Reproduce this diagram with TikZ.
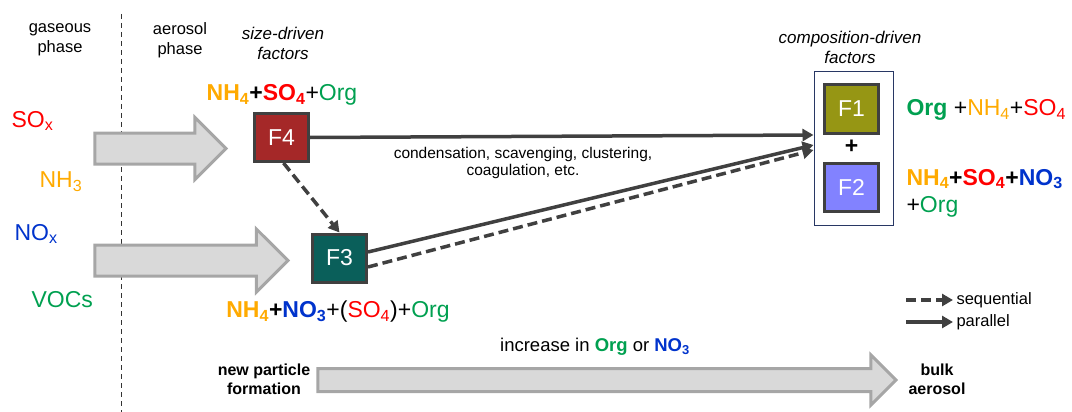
\documentclass[tikz,border=0pt]{standalone}
\usepackage{fontspec}
\setmainfont{Liberation Sans}
\usetikzlibrary{arrows.meta, shapes.arrows, positioning}

\definecolor{nhorange}{RGB}{255, 170, 0}
\definecolor{sored}{RGB}{255, 0, 0}
\definecolor{orggreen}{RGB}{0, 160, 80}
\definecolor{noblue}{RGB}{0, 51, 204}
\definecolor{fourred}{RGB}{165, 40, 40}
\definecolor{threeteal}{RGB}{10, 95, 90}
\definecolor{oneolive}{RGB}{150, 150, 20}
\definecolor{twoblue}{RGB}{130, 130, 255}
\definecolor{linegray}{RGB}{64, 64, 64}
\definecolor{framenavy}{RGB}{40, 55, 100}
\definecolor{bigfill}{RGB}{217, 217, 217}
\definecolor{bigdraw}{RGB}{166, 166, 166}

\tikzset{
  factor/.style={draw=linegray, line width=3pt, minimum width=54pt, minimum height=48pt, text=white, font=\fontsize{23}{27}\selectfont},
  bigarrow/.style={single arrow, draw=bigdraw, fill=bigfill, line width=3pt, single arrow tip angle=90, anchor=tip},
  chem/.style={font=\fontsize{23}{27}\selectfont},
  lbl/.style={font=\fontsize{16.5}{20}\selectfont, align=center},
  ital/.style={font=\fontsize{17}{20}\selectfont\itshape, align=center},
  strong/.style={font=\fontsize{16}{19}\selectfont\bfseries, align=center},
  flow/.style={draw=linegray, line width=3.5pt, -{Triangle[length=11pt,width=12pt]}},
  seq/.style={flow, dash pattern=on 10pt off 5pt},
}

\begin{document}
\begin{tikzpicture}[x=1pt, y=-1pt]
  \useasboundingbox (0,0) rectangle (1072,412);

  % Phases
  \draw[black!80, line width=0.9pt, dash pattern=on 5pt off 4pt] (121,14) -- (121,412);
  \node[lbl] (gas) at (60,40) {gaseous\\phase};
  \node[lbl] (aer) at (180,40) {aerosol\\phase};
  \node[ital] (size) at (283,43) {size-driven\\factors};
  \node[ital] (compo) at (850,47) {composition-driven\\factors};

  % Precursors
  \node[chem, anchor=west] (SOx) at (8,121) {\textcolor{sored}{SO\textsubscript{x}}};
  \node[chem, anchor=west] (NH3) at (36,182) {\textcolor{nhorange}{NH\textsubscript{3}}};
  \node[chem, anchor=west] (NOx) at (11,234) {\textcolor{noblue}{NO\textsubscript{x}}};
  \node[chem, anchor=west] (VOC) at (28,300) {\textcolor{orggreen}{VOCs}};

  % Gray block arrows
  \node[bigarrow, minimum height=131pt, inner sep=14pt, single arrow head extend=15.5pt] (gasA) at (228,148.5) {};
  \node[bigarrow, minimum height=193pt, inner sep=14pt, single arrow head extend=16pt] (gasB) at (290,260.5) {};
  \node[bigarrow, minimum height=578pt, inner sep=10pt, single arrow head extend=13.5pt] (growth) at (898,380) {};

  % Size-driven factors
  \node[factor, fill=fourred] (F4) at (281.5,137.5) {F4};
  \node[factor, fill=threeteal] (F3) at (339.5,258) {F3};
  \node[chem] (F4lbl) at (282,95) {\textcolor{nhorange}{\textbf{NH\textsubscript{4}}}\textbf{+}\textcolor{sored}{\textbf{SO\textsubscript{4}}}+\textcolor{orggreen}{Org}};
  \node[chem] (F3lbl) at (338,312) {\textcolor{nhorange}{\textbf{NH\textsubscript{4}}}\textbf{+}\textcolor{noblue}{\textbf{NO\textsubscript{3}}}+(\textcolor{sored}{SO\textsubscript{4}})+\textcolor{orggreen}{Org}};

  % Composition-driven factors
  \node[draw=framenavy, line width=1pt, minimum width=79pt, minimum height=153pt] (comp) at (853.5,148.5) {};
  \node[factor, fill=oneolive] (F1) at (851.5,109) {F1};
  \node[factor, fill=twoblue] (F2) at (851.5,187.5) {F2};
  \node[chem] (plus) at (851.5,147) {\textbf{+}};
  \node[chem, anchor=west] (F1lbl) at (903,110) {\textcolor{orggreen}{\textbf{Org}} +\textcolor{nhorange}{NH\textsubscript{4}}+\textcolor{sored}{SO\textsubscript{4}}};
  \node[chem, anchor=west, align=left] (F2lbl) at (903,193) {\textcolor{nhorange}{\textbf{NH\textsubscript{4}}}\textbf{+}\textcolor{sored}{\textbf{SO\textsubscript{4}}}\textbf{+}\textcolor{noblue}{\textbf{NO\textsubscript{3}}}\\+\textcolor{orggreen}{Org}};

  % Connectors
  \node[font=\fontsize{15.5}{17}\selectfont, align=center] (proc) at (523,163) {condensation, scavenging, clustering,\\coagulation, etc.};
  \draw[flow] (F4.east) -- ([yshift=13.5pt]comp.west);
  \draw[flow] ([yshift=6pt]F3.east) -- ([yshift=3.5pt]comp.west);
  \draw[seq] ([yshift=-9pt]F3.east) -- ([yshift=-1.5pt]comp.west);
  \draw[seq] ([xshift=2pt]F4.south) -- (F3.north);

  % Legend
  \coordinate (seqA) at (906,300);
  \coordinate (parA) at (906,322);
  \node[lbl, anchor=west] (seqlbl) at (953,300) {sequential};
  \node[lbl, anchor=west] (parlbl) at (953,322) {parallel};
  \draw[seq] (seqA) -- (seqlbl.west);
  \draw[flow] (parA) -- (parlbl.west);

  % Growth axis
  \node[font=\fontsize{18.5}{22}\selectfont] (incr) at (595,347) {increase in \textcolor{orggreen}{\textbf{Org}} or \textcolor{noblue}{\textbf{NO\textsubscript{3}}}};
  \node[strong] (npf) at (264,379) {new particle\\formation};
  \node[strong] (bulk) at (937,379) {bulk\\aerosol};
\end{tikzpicture}
\end{document}
